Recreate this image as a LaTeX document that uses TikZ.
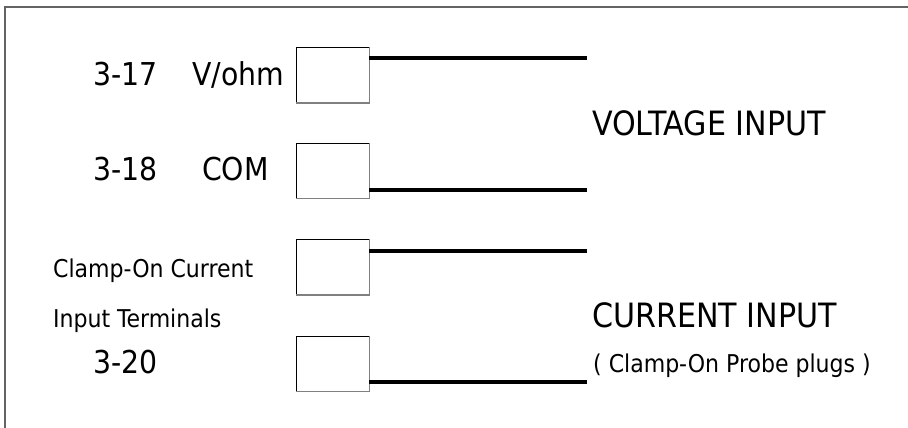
\documentclass[tikz,border=0pt]{standalone}
\usepackage{fontspec}
\setmainfont{DejaVu Sans Condensed}
\usepackage{tikz}
\usetikzlibrary{positioning}
\usepackage{xcolor}
\definecolor{frame}{RGB}{100,100,100}
\definecolor{boxshade}{RGB}{128,128,128}
\tikzstyle{terminal} = [draw=black, line width=0.8pt, minimum width=73pt, minimum height=55pt, inner sep=0pt]
\tikzstyle{wire} = [line width=3.5pt, black]
\tikzstyle{biglabel} = [anchor=base west, inner sep=0pt, font=\fontsize{31.5}{36}\selectfont]
\tikzstyle{smalllabel} = [anchor=base west, inner sep=0pt, font=\fontsize{24.5}{29}\selectfont]

\begin{document}
\begin{tikzpicture}[x=1pt, y=-1pt]
\useasboundingbox (0,0) rectangle (908,428);

% Frame
\draw[frame, line width=1.6pt] (5,428) -- (5,7) -- (908,7);

% Terminals
\node[terminal] (t17) at (332.5,75) {};
\node[terminal] (t18) at (332.5,170.5) {};
\node[terminal] (c1) at (332.5,267) {};
\node[terminal] (c2) at (332.5,363.5) {};
\foreach \t in {t17,t18,c1,c2}
  \draw[boxshade, line width=1.4pt] (\t.north east) -- (\t.south east) -- (\t.south west);

% Wire ends
\coordinate (e17) at (587,58);
\coordinate (e18) at (587,190);
\coordinate (ec1) at (587,251);
\coordinate (ec2) at (587,382);

\draw[wire] (t17.east |- e17) -- (e17);
\draw[wire] (t18.east |- e18) -- (e18);
\draw[wire] (c1.east |- ec1) -- (ec1);
\draw[wire] (c2.east |- ec2) -- (ec2);

% Labels
\node[biglabel] (n17) at (93,85) {3-17};
\node[biglabel] (vohm) at (192,85) {V/ohm};
\node[biglabel] (n18) at (93,180) {3-18};
\node[biglabel] (com) at (202,180) {COM};
\node[smalllabel] (clamp) at (53,277) {Clamp-On Current};
\node[smalllabel] (term) at (53,327) {Input Terminals};
\node[biglabel] (n20) at (93,373) {3-20};

\node[biglabel, font=\fontsize{33.5}{38}\selectfont] (volt) at (592,135) {VOLTAGE INPUT};
\node[biglabel, font=\fontsize{33.5}{38}\selectfont] (curr) at (592,327) {CURRENT INPUT};
\node[smalllabel] (probe) at (593,372) {( Clamp-On Probe plugs )};
\end{tikzpicture}
\end{document}
